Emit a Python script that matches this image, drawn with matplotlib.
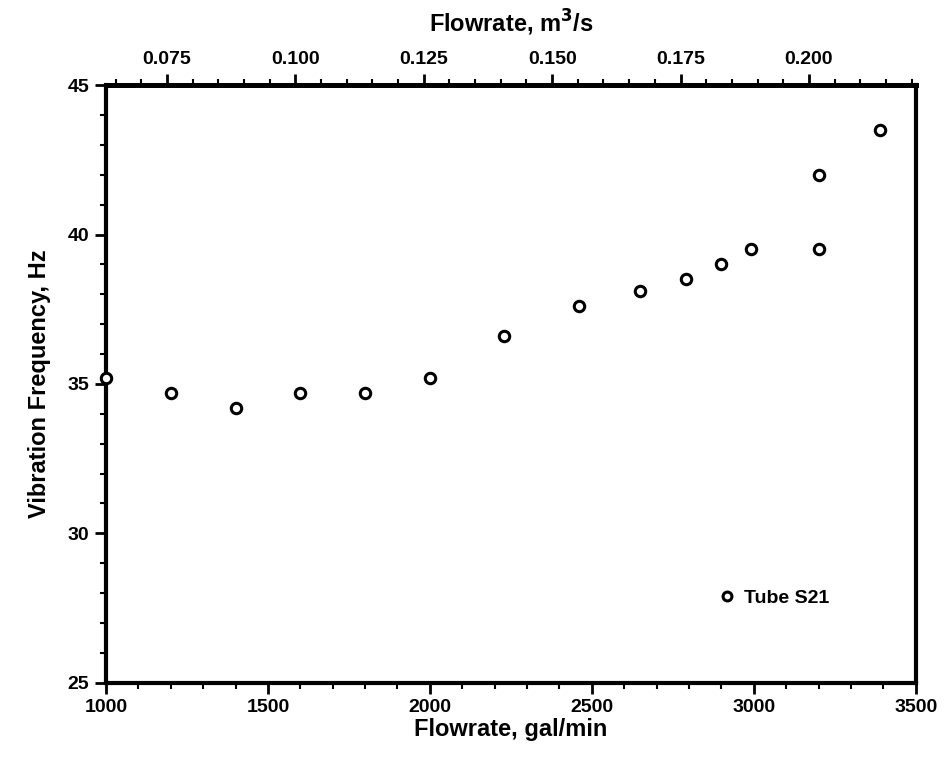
import numpy as np
import matplotlib
matplotlib.use('Agg')
import matplotlib.pyplot as plt
from matplotlib.ticker import MultipleLocator

# donnees (debit en gal/min, frequence en Hz)
flow_gpm = [1000, 1200, 1400, 1600, 1800, 2000, 2230, 2460, 2650, 2790, 2900, 2990, 3200, 3200, 3390]
freq_hz = [35.2, 34.7, 34.2, 34.7, 34.7, 35.2, 36.6, 37.6, 38.1, 38.5, 39.0, 39.5, 39.5, 42.0, 43.5]
serie = 'Tube S21'

top_ticks = [0.075, 0.100, 0.125, 0.150, 0.175, 0.200]
top_labels = ['0.075', '0.100', '0.125', '0.150', '0.175', '0.200']

GPM_TO_M3S = 6.309e-5

plt.rcParams['font.family'] = ['Liberation Sans', 'DejaVu Sans']
plt.rcParams['font.weight'] = 'bold'

fig = plt.figure(figsize=(9.46, 7.67), dpi=100)
ax = fig.add_axes([0.112, 0.110, 0.856, 0.779])

ax.plot(flow_gpm, freq_hz, 'o', mfc='white', mec='black', mew=2.2, ms=7.5,
        clip_on=False, label=serie, zorder=5)

ax.set_xlim(1000, 3500)
ax.set_ylim(25, 45)
ax.xaxis.set_major_locator(MultipleLocator(500))
ax.xaxis.set_minor_locator(MultipleLocator(100))
ax.yaxis.set_major_locator(MultipleLocator(5))
ax.yaxis.set_minor_locator(MultipleLocator(1))

for s in ax.spines.values():
    s.set_linewidth(3)
ax.spines['top'].set_linewidth(3.5)

ax.tick_params(which='major', direction='out', length=8, width=2, labelsize=14, pad=4)
ax.tick_params(which='minor', direction='out', length=4, width=1.5)
ax.tick_params(right=False, top=False)
for lab in ax.get_xticklabels() + ax.get_yticklabels():
    lab.set_fontweight('bold')

ax.set_xlabel('Flowrate, gal/min', fontsize=17, fontweight='bold', labelpad=1)
ax.set_ylabel('Vibration Frequency, Hz', fontsize=17, fontweight='bold', labelpad=12)

# axe du haut en m3/s
sec = ax.secondary_xaxis('top', functions=(lambda g: g * GPM_TO_M3S, lambda q: q / GPM_TO_M3S))
sec.set_xticks(top_ticks)
sec.set_xticklabels(top_labels)
sec.xaxis.set_minor_locator(MultipleLocator(0.005))
sec.tick_params(which='major', direction='out', length=8, width=2, labelsize=14, pad=4)
sec.tick_params(which='minor', direction='out', length=4, width=1.5)
for lab in sec.get_xticklabels():
    lab.set_fontweight('bold')
sec.set_xlabel('Flowrate, m$^\\mathbf{3}$/s', fontsize=17, fontweight='bold', labelpad=14)
sec.spines['top'].set_linewidth(3.5)

ax.legend(loc='center left', bbox_to_anchor=(0.74, 0.142), frameon=False,
          prop={'weight': 'bold', 'size': 14}, handletextpad=0.3, handlelength=1.2,
          markerscale=0.85, borderpad=0)

plt.savefig('out.png', dpi=100)
